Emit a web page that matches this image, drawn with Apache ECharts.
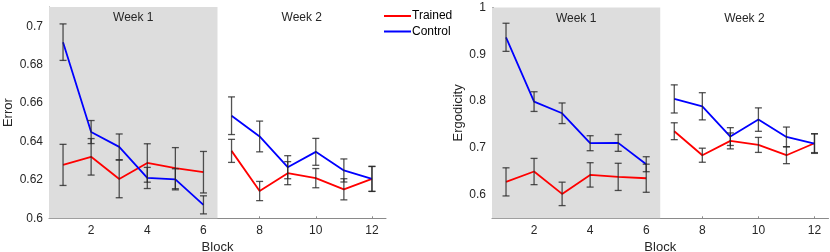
<!DOCTYPE html>
<html>
<head>
<meta charset="utf-8">
<script src="https://cdn.jsdelivr.net/npm/echarts@6/dist/echarts.min.js"></script>
<style>
html,body{margin:0;padding:0;background:#fff;}
#chart{width:830px;height:252px;}
</style>
</head>
<body>
<div id="chart"></div>
<script>
// ---- data ----
const blocks = [1, 2, 3, 4, 5, 6, 7, 8, 9, 10, 11, 12];
const xTicks = [2, 4, 6, 8, 10, 12];
const errorTicks = [0.6, 0.62, 0.64, 0.66, 0.68, 0.7];
const ergTicks = [0.6, 0.7, 0.8, 0.9, 1];

const errorTrained   = [0.6278, 0.6320, 0.6205, 0.6288, 0.6261, 0.6240, 0.6351, 0.6142, 0.6235, 0.6209, 0.6151, 0.6205];
const errorTrainedSE = [0.0107, 0.0095, 0.0098, 0.0100, 0.0107, 0.0108, 0.0060, 0.0050, 0.0060, 0.0050, 0.0055, 0.0065];
const errorControl   = [0.6917, 0.6449, 0.6372, 0.6210, 0.6203, 0.6070, 0.6534, 0.6426, 0.6266, 0.6346, 0.6249, 0.6205];
const errorControlSE = [0.0095, 0.0060, 0.0067, 0.0055, 0.0055, 0.0047, 0.0098, 0.0080, 0.0060, 0.0070, 0.0060, 0.0065];

const ergTrained   = [0.6277, 0.6498, 0.6021, 0.6426, 0.6384, 0.6355, 0.7358, 0.6846, 0.7151, 0.7066, 0.6846, 0.7102];
const ergTrainedSE = [0.030, 0.028, 0.025, 0.026, 0.029, 0.030, 0.018, 0.015, 0.017, 0.016, 0.018, 0.020];
const ergControl   = [0.9362, 0.7990, 0.7741, 0.7102, 0.7109, 0.6654, 0.8047, 0.7890, 0.7244, 0.7606, 0.7237, 0.7095];
const ergControlSE = [0.030, 0.021, 0.022, 0.016, 0.018, 0.016, 0.030, 0.029, 0.019, 0.025, 0.021, 0.021];

const weekNames = ['Week 1', 'Week 2'];
const groupNames = ['Trained', 'Control'];
const groupColors = ['#ff0000', '#0000ff'];

// ---- helpers ----
const FONT = 'Liberation Sans, Arial, Helvetica, sans-serif';
function pairs(vals, from, to) {
  const out = [];
  for (let i = from; i < to; i++) out.push([blocks[i], vals[i]]);
  return out;
}
function errData(vals, se) {
  return blocks.map((b, i) => [b, vals[i] - se[i], vals[i] + se[i]]);
}
function renderErr(params, api) {
  const x = api.value(0);
  const lo = api.coord([x, api.value(1)]);
  const hi = api.coord([x, api.value(2)]);
  const w = 3.5;
  const st = { stroke: 'rgba(40,40,40,0.8)', lineWidth: 1.3 };
  return {
    type: 'group',
    children: [
      { type: 'line', shape: { x1: lo[0], y1: lo[1], x2: hi[0], y2: hi[1] }, style: st },
      { type: 'line', shape: { x1: lo[0] - w, y1: lo[1], x2: lo[0] + w, y2: lo[1] }, style: st },
      { type: 'line', shape: { x1: hi[0] - w, y1: hi[1], x2: hi[0] + w, y2: hi[1] }, style: st }
    ]
  };
}

function xAxisFor(gi) {
  return {
    type: 'value', gridIndex: gi, min: 0.5, max: 12.5,
    name: 'Block', nameLocation: 'middle', nameGap: 21,
    nameTextStyle: { fontFamily: FONT, fontSize: 13, color: '#262626' },
    axisLine: { lineStyle: { color: '#8a8a8a', width: 1 } },
    axisTick: { show: true, inside: true, length: 2, customValues: xTicks, lineStyle: { color: '#8a8a8a' } },
    axisLabel: { customValues: xTicks, fontFamily: FONT, fontSize: 12, color: '#262626', margin: 6 },
    splitLine: { show: false }
  };
}
function yAxisFor(gi, min, max, ticks, name, gap) {
  return {
    type: 'value', gridIndex: gi, min: min, max: max,
    name: name, nameLocation: 'middle', nameGap: gap, nameRotate: 90,
    nameTextStyle: { fontFamily: FONT, fontSize: 13, color: '#262626' },
    axisLine: { show: true, lineStyle: { color: '#8a8a8a', width: 1 } },
    axisTick: { show: true, inside: true, length: 2, customValues: ticks, lineStyle: { color: '#8a8a8a' } },
    axisLabel: { customValues: ticks, fontFamily: FONT, fontSize: 12, color: '#262626', margin: 6 },
    splitLine: { show: false }
  };
}

const series = [];
const panels = [
  { vals: [errorTrained, errorControl], se: [errorTrainedSE, errorControlSE] },
  { vals: [ergTrained, ergControl], se: [ergTrainedSE, ergControlSE] }
];
panels.forEach((p, gi) => {
  // shaded week areas
  series.push({
    type: 'line', xAxisIndex: gi, yAxisIndex: gi, data: [], silent: true,
    markArea: {
      silent: true,
      label: { show: true, position: 'insideTop', distance: 5, color: '#262626', fontFamily: FONT, fontSize: 12 },
      data: [
        [{ name: weekNames[0], xAxis: 0.5, itemStyle: { color: '#dddddd' } }, { xAxis: 6.5 }],
        [{ name: weekNames[1], xAxis: 6.5, itemStyle: { color: 'rgba(255,255,255,0)' } }, { xAxis: 12.5 }]
      ]
    }
  });
  for (let g = 0; g < 2; g++) {
    [[0, 6], [6, 12]].forEach(r => {
      series.push({
        type: 'line', name: groupNames[g], xAxisIndex: gi, yAxisIndex: gi,
        data: pairs(p.vals[g], r[0], r[1]),
        showSymbol: false, symbol: 'none',
        lineStyle: { color: groupColors[g], width: 1.8 },
        itemStyle: { color: groupColors[g] },
        z: 3
      });
    });
  }
  for (let g = 0; g < 2; g++) {
    series.push({
      type: 'custom', xAxisIndex: gi, yAxisIndex: gi,
      data: errData(p.vals[g], p.se[g]),
      renderItem: renderErr, z: 4, silent: true
    });
  }
});

const chart = echarts.init(document.getElementById('chart'), null, { renderer: 'canvas' });
chart.setOption({
  animation: false,
  backgroundColor: '#ffffff',
  textStyle: { fontFamily: FONT },
  grid: [
    { left: 49, top: 7, width: 337, height: 211.3, outerBoundsMode: 'none', containLabel: false },
    { left: 492, top: 7.4, width: 336.5, height: 210.9, outerBoundsMode: 'none', containLabel: false }
  ],
  legend: {
    data: groupNames, orient: 'vertical', left: 384, top: 9,
    icon: 'rect', itemWidth: 27, itemHeight: 2, itemGap: 1.5,
    textStyle: { fontFamily: FONT, fontSize: 12, color: '#000', lineHeight: 14, padding: [0, 0, 0, -4] },
    padding: 0, selectedMode: false
  },
  xAxis: [xAxisFor(0), xAxisFor(1)],
  yAxis: [
    yAxisFor(0, 0.6, 0.71, errorTicks, 'Error', 34),
    yAxisFor(1, 0.55, 1, ergTicks, 'Ergodicity', 25)
  ],
  series: series
});
</script>
</body>
</html>
